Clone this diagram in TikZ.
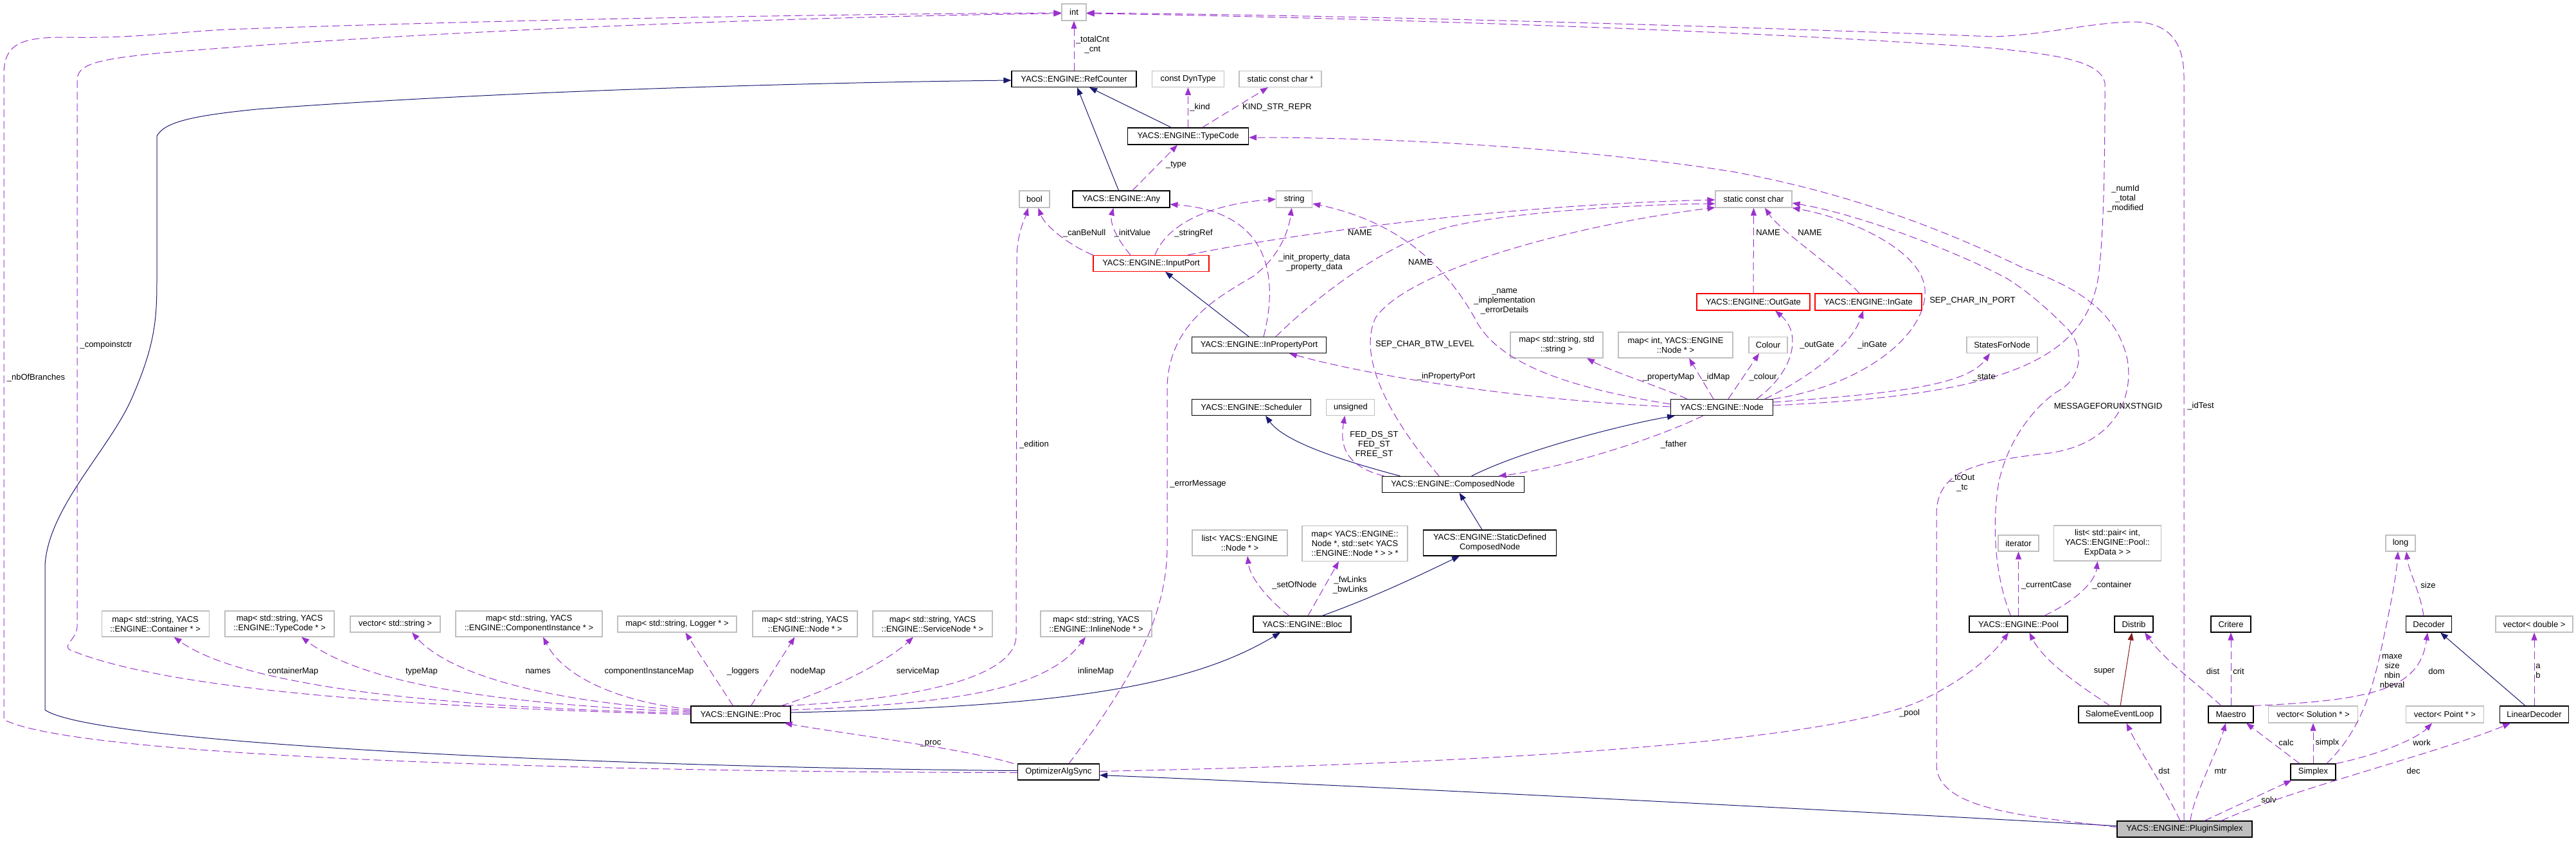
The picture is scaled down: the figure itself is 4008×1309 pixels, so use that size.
\documentclass[tikz,border=0pt]{standalone}
\usepackage{fontspec}
\setmainfont{Liberation Sans}
\usetikzlibrary{arrows.meta}
\definecolor{navyc}{HTML}{191970}
\definecolor{purp}{HTML}{9A32CD}
\definecolor{redinh}{HTML}{8B1A1A}
\definecolor{greyb}{HTML}{BFBFBF}
\begin{document}
\begin{tikzpicture}[x=1pt,y=-1pt,
 cls/.style={draw=black,line width=1.1pt,inner sep=0pt,align=center,font=\fontsize{13}{15}\selectfont},
 ext/.style={cls,draw=greyb},
 redbox/.style={cls,draw=red},
 dep/.style={draw=purp,line width=1pt,dash pattern=on 12pt off 6pt,-{Triangle[length=12pt,width=9pt]}},
 inh/.style={draw=navyc,line width=1pt,-{Triangle[length=12pt,width=9pt]}},
 priv/.style={inh,draw=redinh},
 lbl/.style={inner sep=0pt,align=center,font=\fontsize{13}{15}\selectfont},
]
\useasboundingbox (0,0) rectangle (4008,1309);
% ---------------- nodes
\node[ext,minimum width=38pt,minimum height=26pt] (nint) at (1671,19) {int};
\node[cls,minimum width=194pt,minimum height=25pt] (refc) at (1671,123) {YACS::ENGINE::RefCounter};
\node[ext,minimum width=112pt,minimum height=25pt] (dyn) at (1848.5,123) {const DynType};
\node[ext,minimum width=128pt,minimum height=25pt] (scc) at (1992,123) {static const char *};
\node[cls,minimum width=188pt,minimum height=26pt] (tc) at (1848.5,212) {YACS::ENGINE::TypeCode};
\node[ext,minimum width=47pt,minimum height=26pt] (nbool) at (1609.5,310) {bool};
\node[cls,minimum width=151pt,minimum height=26pt] (any) at (1744.5,310) {YACS::ENGINE::Any};
\node[ext,minimum width=56pt,minimum height=26pt] (str) at (2013.7,310) {string};
\node[ext,minimum width=119pt,minimum height=26pt] (sc) at (2728.5,310) {static const char};
\node[redbox,minimum width=180pt,minimum height=25pt] (inport) at (1791,410) {YACS::ENGINE::InputPort};
\node[cls,minimum width=209pt,minimum height=25pt] (inprop) at (1959,537) {YACS::ENGINE::InPropertyPort};
\node[redbox,minimum width=176pt,minimum height=26pt] (outgate) at (2728,470) {YACS::ENGINE::OutGate};
\node[redbox,minimum width=166pt,minimum height=26pt] (ingate) at (2907,470) {YACS::ENGINE::InGate};
\node[ext,minimum width=144pt,minimum height=40pt] (mss) at (2422,537) {map< std::string, std\\::string >};
\node[ext,minimum width=178pt,minimum height=40pt] (mid) at (2607,537) {map< int, YACS::ENGINE\\::Node * >};
\node[ext,minimum width=60pt,minimum height=25pt] (colour) at (2751,537) {Colour};
\node[ext,minimum width=110pt,minimum height=25pt] (sfn) at (3115,537) {StatesForNode};
\node[cls,minimum width=185pt,minimum height=25pt] (sched) at (1947,634) {YACS::ENGINE::Scheduler};
\node[ext,minimum width=75pt,minimum height=25pt] (uns) at (2101.4,634) {unsigned};
\node[cls,minimum width=159pt,minimum height=25pt] (ynode) at (2679,634) {YACS::ENGINE::Node};
\node[cls,minimum width=221pt,minimum height=25pt] (cn) at (2260.6,754) {YACS::ENGINE::ComposedNode};
\node[ext,minimum width=148pt,minimum height=40pt] (lnode) at (1929,845) {list< YACS::ENGINE\\::Node * >};
\node[ext,minimum width=164pt,minimum height=55pt] (mlinks) at (2108,845.7) {map< YACS::ENGINE::\\Node *, std::set< YACS\\::ENGINE::Node * > > *};
\node[cls,minimum width=207pt,minimum height=40pt] (sdcn) at (2318,845) {YACS::ENGINE::StaticDefined\\ComposedNode};
\node[ext,minimum width=63pt,minimum height=25pt] (iter) at (3140.5,845.5) {iterator};
\node[ext,minimum width=167pt,minimum height=55pt] (lpair) at (3279,845.5) {list< std::pair< int,\\YACS::ENGINE::Pool::\\ExpData > >};
\node[ext,minimum width=46pt,minimum height=25pt] (nlong) at (3735,845.5) {long};
\node[ext,minimum width=167pt,minimum height=40pt] (mcont) at (241.6,971) {map< std::string, YACS\\::ENGINE::Container * >};
\node[ext,minimum width=170pt,minimum height=40pt] (mtc) at (435,971) {map< std::string, YACS\\::ENGINE::TypeCode * >};
\node[ext,minimum width=140pt,minimum height=25pt] (vstr) at (615,971.5) {vector< std::string >};
\node[ext,minimum width=228pt,minimum height=40pt] (mci) at (823,971) {map< std::string, YACS\\::ENGINE::ComponentInstance * >};
\node[ext,minimum width=185pt,minimum height=25pt] (mlog) at (1053.5,971.5) {map< std::string, Logger * >};
\node[ext,minimum width=163pt,minimum height=40pt] (mnode) at (1252.5,971) {map< std::string, YACS\\::ENGINE::Node * >};
\node[ext,minimum width=186pt,minimum height=40pt] (msrv) at (1451,971) {map< std::string, YACS\\::ENGINE::ServiceNode * >};
\node[ext,minimum width=173pt,minimum height=40pt] (minl) at (1705.5,971) {map< std::string, YACS\\::ENGINE::InlineNode * >};
\node[cls,minimum width=152pt,minimum height=25pt] (bloc) at (2026,971.5) {YACS::ENGINE::Bloc};
\node[cls,minimum width=153pt,minimum height=25pt] (pool) at (3140.5,971.5) {YACS::ENGINE::Pool};
\node[cls,minimum width=60pt,minimum height=25pt] (distrib) at (3320,971.5) {Distrib};
\node[cls,minimum width=62pt,minimum height=25pt] (critere) at (3471,971.5) {Critere};
\node[cls,minimum width=71pt,minimum height=25pt] (decoder) at (3779,971.5) {Decoder};
\node[ext,minimum width=120pt,minimum height=25pt] (vdbl) at (3943,971.5) {vector< double >};
\node[cls,minimum width=155pt,minimum height=26pt] (proc) at (1152.5,1112) {YACS::ENGINE::Proc};
\node[cls,minimum width=128pt,minimum height=26pt] (sel) at (3298,1112) {SalomeEventLoop};
\node[cls,minimum width=70pt,minimum height=26pt] (maestro) at (3471,1112) {Maestro};
\node[ext,minimum width=139pt,minimum height=26pt] (vsol) at (3599,1112) {vector< Solution * >};
\node[ext,minimum width=121pt,minimum height=26pt] (vpt) at (3804,1112) {vector< Point * >};
\node[cls,minimum width=107pt,minimum height=26pt] (lindec) at (3943,1112) {LinearDecoder};
\node[cls,minimum width=127pt,minimum height=25pt] (oas) at (1647,1201.5) {OptimizerAlgSync};
\node[cls,minimum width=70pt,minimum height=25pt] (simplex) at (3599,1201.5) {Simplex};
\node[cls,fill=greyb,minimum width=210pt,minimum height=25pt] (ps) at (3399,1290.5) {YACS::ENGINE::PluginSimplex};
% ---------------- inheritance
\draw[inh] ([xshift=-26pt]tc.north) -- ([xshift=24pt]refc.south);
\draw[inh] ([xshift=-4pt]any.north) -- ([xshift=5pt]refc.south);
\draw[inh] ([xshift=-16pt]inprop.north) -- ([xshift=22pt]inport.south);
\draw[inh] ([xshift=-82pt]cn.north) .. controls (2100,720) and (2000,690) .. ([xshift=22pt]sched.south);
\draw[inh] ([xshift=29pt]cn.north) .. controls (2370,700) and (2530,660) .. ([xshift=-73pt]ynode.south);
\draw[inh] ([xshift=-12pt]sdcn.north) -- ([xshift=10pt]cn.south);
\draw[inh] ([xshift=31pt]bloc.north) .. controls (2150,925) and (2230,885) .. ([xshift=-47pt]sdcn.south);
\draw[inh] ([yshift=3pt]proc.east) .. controls (1650,1100) and (1850,1070) .. ([xshift=-34pt]bloc.south);
\draw[inh] ([yshift=2pt]oas.west) .. controls (1000,1195) and (150,1160) .. (70,1105) -- (70,880) .. controls (75,790) and (170,700) .. (205,620) .. controls (240,540) and (244,500) .. (244,440) -- (244,212) .. controls (255,190) and (300,180) .. (400,170) .. controls (800,140) and (1300,128) .. ([yshift=-2pt]refc.west);
\draw[inh] ([yshift=5pt]ps.west) .. controls (2800,1258) and (2100,1222) .. ([yshift=-5pt]oas.east);
\draw[inh] ([xshift=-14pt]lindec.north) -- ([xshift=18pt]decoder.south);
\draw[priv] ([xshift=1pt]sel.north) -- ([xshift=-3pt]distrib.south);
% ---------------- usage
\draw[dep] (refc.north) -- (nint.south);
\draw[dep] (tc.north) -- (dyn.south);
\draw[dep] ([xshift=22pt]tc.north) -- ([xshift=-19pt]scc.south);
\draw[dep] ([xshift=17.5pt]any.north) -- ([xshift=-16.5pt]tc.south);
\draw[dep] (inport.north west) .. controls (1660,380) and (1625,350) .. ([xshift=6pt]nbool.south);
\draw[dep] ([xshift=-32pt]inport.north) .. controls (1728,360) and (1728,340) .. ([xshift=-12pt]any.south);
\draw[dep] ([xshift=6pt]inport.north) .. controls (1815,350) and (1880,318) .. (str.west);
\draw[dep] ([xshift=57pt]inport.north) .. controls (1950,375) and (2300,320) .. ([yshift=-1pt]sc.west);
\draw[dep] ([xshift=26pt]inprop.north) .. controls (2040,470) and (2150,380) .. (2255,353) .. controls (2350,330) and (2550,318) .. ([yshift=-7pt]sc.west);
\draw[dep] ([xshift=7pt]inprop.north) .. controls (1990,430) and (1975,330) .. ([yshift=-8pt]any.east);
\draw[dep] ([yshift=5pt]ynode.west) .. controls (2450,605) and (2340,570) .. (2300,505) .. controls (2265,440) and (2200,350) .. ([yshift=-7pt]str.east);
\draw[dep] ([xshift=-21.6pt]cn.north) .. controls (2170,660) and (2110,560) .. (2140,495) .. controls (2190,420) and (2450,350) .. ([yshift=-13pt]sc.west);
\draw[dep] (outgate.north) -- (sc.south);
\draw[dep] ([xshift=-14pt]ingate.north) .. controls (2860,420) and (2770,360) .. ([xshift=17.5pt]sc.south);
\draw[dep] (ynode.north east) .. controls (2900,600) and (3000,520) .. (2995,450) .. controls (2990,390) and (2880,340) .. (sc.south east);
\draw[dep] ([yshift=3pt]ynode.east) .. controls (3120,615) and (3245,560) .. (3265,430) .. controls (3275,350) and (3275,200) .. (3275,130) .. controls (3270,95) and (3200,85) .. (3100,75) .. controls (2700,45) and (2000,25) .. ([yshift=-2pt]nint.east);
\draw[dep] ([yshift=8pt]ynode.east) .. controls (2950,612) and (3060,600) .. ([xshift=-19pt]sfn.south);
\draw[dep] ([yshift=1pt]ynode.west) .. controls (2400,625) and (2150,590) .. ([xshift=47pt]inprop.south);
\draw[dep] ([xshift=-54pt]ynode.north) .. controls (2590,605) and (2500,575) .. ([xshift=47pt]mss.south);
\draw[dep] ([xshift=-13pt]ynode.north) -- ([xshift=21pt]mid.south);
\draw[dep] ([xshift=10pt]ynode.north) -- ([xshift=-14pt]colour.south);
\draw[dep] ([xshift=54pt]ynode.north) .. controls (2790,580) and (2805,520) .. ([xshift=34pt]outgate.south);
\draw[dep] ([xshift=67pt]ynode.north) .. controls (2810,590) and (2880,540) .. ([xshift=-8pt]ingate.south);
\draw[dep] ([xshift=-29pt]ynode.south) .. controls (2560,690) and (2420,730) .. ([xshift=71pt]cn.north);
\draw[dep] ([xshift=-107pt]cn.north) .. controls (2090,725) and (2085,690) .. ([xshift=-9pt]uns.south);
\draw[dep] ([xshift=-20pt]bloc.north) .. controls (1975,935) and (1945,900) .. ([xshift=12pt]lnode.south);
\draw[dep] ([xshift=9pt]bloc.north) -- ([xshift=-25pt]mlinks.south);
\draw[dep] ([yshift=2pt]proc.west) .. controls (700,1102) and (380,1070) .. ([xshift=29pt]mcont.south);
\draw[dep] ([yshift=4pt]proc.west) .. controls (750,1095) and (560,1060) .. ([xshift=34pt]mtc.south);
\draw[dep] ([yshift=6pt]proc.west) .. controls (850,1092) and (700,1050) .. ([xshift=26pt]vstr.south);
\draw[dep] ([yshift=8pt]proc.west) .. controls (980,1095) and (880,1060) .. ([xshift=22pt]mci.south);
\draw[dep] ([xshift=-12pt]proc.north) -- ([xshift=13pt]mlog.south);
\draw[dep] ([xshift=16pt]proc.north) -- ([xshift=-16pt]mnode.south);
\draw[dep] ([xshift=63pt]proc.north) .. controls (1290,1075) and (1380,1030) .. ([xshift=-30pt]msrv.south);
\draw[dep] ([yshift=7pt]proc.east) .. controls (1500,1095) and (1630,1070) .. ([xshift=-16.5pt]minl.south);
\draw[dep] ([xshift=70pt]proc.north) .. controls (1400,1090) and (1580,1060) .. (1581,990) -- (1582,400) .. controls (1583,360) and (1595,340) .. ([xshift=-10pt]nbool.south);
\draw[dep] (proc.west) .. controls (600,1100) and (250,1070) .. (110,1012) .. controls (95,1005) and (120,995) .. (120,975) -- (120,125) .. controls (120,100) and (150,92) .. (255,82) .. controls (700,45) and (1300,25) .. ([yshift=-2pt]nint.west);
\draw[dep] ([yshift=-1pt]oas.west) .. controls (950,1202) and (120,1180) .. (6,1120) -- (6,112) .. controls (8,70) and (30,58) .. (100,58) .. controls (200,60) and (250,52) .. (350,46) .. controls (800,30) and (1300,22) .. ([yshift=-1pt]nint.west);
\draw[dep] ([xshift=16pt]oas.north) .. controls (1760,1060) and (1816,960) .. (1816,850) -- (1816,600) .. controls (1820,500) and (1900,460) .. (1950,430) .. controls (1990,400) and (2005,360) .. ([xshift=-4pt]str.south);
\draw[dep] ([xshift=-70pt]oas.north) .. controls (1500,1165) and (1300,1140) .. ([xshift=68pt]proc.south);
\draw[dep] ([yshift=1pt]oas.east) .. controls (2500,1185) and (2900,1140) .. (3000,1085) .. controls (3060,1055) and (3100,1020) .. ([xshift=-15.5pt]pool.south);
\draw[dep] ([yshift=3pt]ps.west) .. controls (3150,1270) and (3013,1260) .. (3013,1190) -- (3013,800) .. controls (3013,730) and (3080,718) .. (3190,705) .. controls (3290,690) and (3320,620) .. (3310,560) .. controls (3295,490) and (3240,450) .. (3150,418) .. controls (3050,370) and (2900,305) .. (2700,268) .. controls (2500,235) and (2200,214) .. ([yshift=-2pt]tc.east);
\draw[dep] ([xshift=-12pt]pool.north) .. controls (3105,900) and (3098,820) .. (3110,750) .. controls (3125,680) and (3170,630) .. (3200,610) .. controls (3240,590) and (3245,540) .. (3215,510) .. controls (3180,475) and (3150,450) .. (3120,432) .. controls (3050,395) and (2900,335) .. ([yshift=-6pt]sc.east);
\draw[dep] ([xshift=-1pt]ps.north) -- (3398,120) .. controls (3398,60) and (3370,35) .. (3320,34) .. controls (3250,35) and (3180,55) .. (3100,57) .. controls (2800,45) and (2200,25) .. ([yshift=-1pt]nint.east);
\draw[dep] ([xshift=-7pt]ps.north) .. controls (3370,1230) and (3330,1170) .. ([xshift=10.5pt]sel.south);
\draw[dep] ([xshift=9pt]ps.north) .. controls (3412,1240) and (3450,1170) .. ([xshift=-8pt]maestro.south);
\draw[dep] ([xshift=31pt]ps.north) -- ([xshift=-33.5pt]simplex.south);
\draw[dep] ([xshift=57pt]ps.north) .. controls (3560,1230) and (3800,1170) .. ([xshift=-37pt]lindec.south);
\draw[dep] ([xshift=-15pt]sel.north) .. controls (3240,1070) and (3180,1030) .. ([xshift=17pt]pool.south);
\draw[dep] ([xshift=-15pt]maestro.north) .. controls (3420,1065) and (3370,1030) .. ([xshift=17pt]distrib.south);
\draw[dep] (maestro.north) -- (critere.south);
\draw[dep] ([xshift=35pt]maestro.north) .. controls (3700,1090) and (3765,1070) .. ([xshift=-2pt]decoder.south);
\draw[dep] ([xshift=-21pt]simplex.north) -- ([xshift=24pt]maestro.south);
\draw[dep] (simplex.north) -- (vsol.south);
\draw[dep] (simplex.north east) .. controls (3700,1175) and (3760,1150) .. ([xshift=-20pt]vpt.south);
\draw[dep] ([xshift=21pt]simplex.north) .. controls (3670,1140) and (3690,1080) .. (3705,1010) .. controls (3718,950) and (3728,900) .. ([xshift=-4pt]nlong.south);
\draw[dep] ([xshift=-8pt]decoder.north) .. controls (3765,920) and (3748,890) .. ([xshift=9pt]nlong.south);
\draw[dep] (lindec.north) -- (vdbl.south);
\draw[dep] (pool.north) -- (iter.south);
\draw[dep] ([xshift=40pt]pool.north) .. controls (3230,935) and (3260,905) .. ([xshift=-15.5pt]lpair.south);
% ---------------- labels
\node[lbl] (l1) at (1700,70) {\_totalCnt\\\_cnt};
\node[lbl] (l2) at (1867,167) {\_kind};
\node[lbl] (l3) at (1987,167) {KIND\_STR\_REPR};
\node[lbl] (l4) at (1830,257) {\_type};
\node[lbl] (l5) at (1687,363) {\_canBeNull};
\node[lbl] (l6) at (1762,363) {\_initValue};
\node[lbl] (l7) at (1857,363) {\_stringRef};
\node[lbl] (l8) at (2045,409) {\_init\_property\_data\\\_property\_data};
\node[lbl] (l9) at (2116,362) {NAME};
\node[lbl] (l10) at (2210,408) {NAME};
\node[lbl] (l11) at (2751,362) {NAME};
\node[lbl] (l12) at (2816,362) {NAME};
\node[lbl] (l13) at (3069,468) {SEP\_CHAR\_IN\_PORT};
\node[lbl] (l14) at (2341,469) {\_name\\\_implementation\\\_errorDetails};
\node[lbl] (l15) at (2217,536) {SEP\_CHAR\_BTW\_LEVEL};
\node[lbl] (l16) at (2250,586) {\_inPropertyPort};
\node[lbl] (l17) at (2596,587) {\_propertyMap};
\node[lbl] (l18) at (2670,587) {\_idMap};
\node[lbl] (l19) at (2743,587) {\_colour};
\node[lbl] (l20) at (2827,537) {\_outGate};
\node[lbl] (l21) at (2913,537) {\_inGate};
\node[lbl] (l22) at (3087,588) {\_state};
\node[lbl] (l23) at (3307,309) {\_numId\\\_total\\\_modified};
\node[lbl] (l24) at (2604,692) {\_father};
\node[lbl] (l25) at (2138,692) {FED\_DS\_ST\\FED\_ST\\FREE\_ST};
\node[lbl] (l26) at (3280,632) {MESSAGEFORUNXSTNGID};
\node[lbl] (l27) at (3424,632) {\_idTest};
\node[lbl] (l28) at (3053,752) {\_tcOut\\\_tc};
\node[lbl] (l29) at (1609,692) {\_edition};
\node[lbl] (l30) at (1864,753) {\_errorMessage};
\node[lbl] (l31) at (165,537) {\_compoinstctr};
\node[lbl] (l32) at (56,588) {\_nbOfBranches};
\node[lbl] (l33) at (2014,911) {\_setOfNode};
\node[lbl] (l34) at (2101,911) {\_fwLinks\\\_bwLinks};
\node[lbl] (l35) at (3184,911) {\_currentCase};
\node[lbl] (l36) at (3286,911) {\_container};
\node[lbl] (l37) at (3778,911) {size};
\node[lbl] (l38) at (456,1045) {containerMap};
\node[lbl] (l39) at (656,1045) {typeMap};
\node[lbl] (l40) at (837,1045) {names};
\node[lbl] (l41) at (1010,1045) {componentInstanceMap};
\node[lbl] (l42) at (1156,1045) {\_loggers};
\node[lbl] (l43) at (1257,1045) {nodeMap};
\node[lbl] (l44) at (1428,1045) {serviceMap};
\node[lbl] (l45) at (1705,1045) {inlineMap};
\node[lbl] (l46) at (3274,1045) {super};
\node[lbl] (l47) at (3443,1045) {dist};
\node[lbl] (l48) at (3483,1045) {crit};
\node[lbl] (l49) at (3722,1045) {maxe\\size\\nbin\\nbeval};
\node[lbl] (l50) at (3791,1045) {dom};
\node[lbl] (l51) at (3949,1045) {a\\b};
\node[lbl] (l52) at (1448,1157) {\_proc};
\node[lbl] (l53) at (2971,1110) {\_pool};
\node[lbl] (l54) at (3557,1156) {calc};
\node[lbl] (l55) at (3621,1156) {simplx};
\node[lbl] (l56) at (3768,1156) {work};
\node[lbl] (l57) at (3367,1200) {dst};
\node[lbl] (l58) at (3455,1200) {mtr};
\node[lbl] (l59) at (3755,1200) {dec};
\node[lbl] (l60) at (3530,1245) {solv};
\end{tikzpicture}
\end{document}
